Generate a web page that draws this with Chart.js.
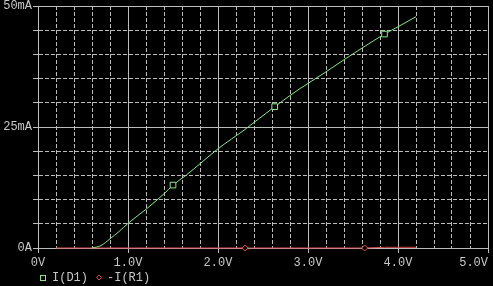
<!DOCTYPE html>
<html>
<head>
<meta charset="utf-8">
<script src="https://cdn.jsdelivr.net/npm/chart.js@4/dist/chart.umd.min.js"></script>
<style>
  html, body { margin: 0; padding: 0; background: #000; }
  #wrap { width: 493px; height: 286px; }
</style>
</head>
<body>
<div id="wrap"><canvas id="plot"></canvas></div>
<script>
// I(D1) trace, volts / mA
const diodeVolts = [0.6, 0.7, 0.8, 0.9, 1.0, 1.2, 1.4, 1.5, 1.65, 1.8, 2.0, 2.3, 2.63, 2.9, 3.0, 3.2, 3.4, 3.6, 3.85, 4.0, 4.2];
const diodeCurrent = [0, 0.5, 1.9, 3.4, 5.1, 8.0, 11.2, 13.0, 15.1, 17.4, 20.5, 24.5, 29.2, 32.8, 34.0, 36.4, 38.9, 41.3, 44.2, 45.7, 47.8];
const diodeMarks = [1.5, 2.63, 3.85];

// -I(R1) trace
const resVolts = [0.2, 1.0, 2.0, 2.3, 3.0, 3.63, 3.85, 4.2];
const resCurrent = [0, 0, 0, 0, 0, 0, 0.15, 0.15];
const resMarks = [2.3, 3.63];

const xTickLabels = ['0V', '1.0V', '2.0V', '3.0V', '4.0V', '5.0V'];
const yTickLabels = { 0: '0A', 25: '25mA', 50: '50mA' };

const GRID = '#bcbcbc';
const TEXT = '#c8c8c8';
const GREEN = '#8de68a';
const RED = '#d84a4a';

Chart.defaults.font.family = '"Liberation Mono", monospace';
Chart.defaults.font.size = 12;
Chart.defaults.color = TEXT;

const isMajorX = v => Math.abs(v - Math.round(v)) < 1e-6;
const isMajorY = v => Math.abs(v / 25 - Math.round(v / 25)) < 1e-6;

function pts(xs, ys) {
    return xs.map((x, i) => ({ x: x, y: ys[i] }));
}

// legend drawn under the x labels, PSpice style
const probeLegend = {
    id: 'probeLegend',
    afterDraw(chart) {
        const ctx = chart.ctx;
        const y = 277.5;
        ctx.save();
        ctx.font = '12px "Liberation Mono", monospace';
        ctx.textBaseline = 'middle';
        ctx.fillStyle = TEXT;
        ctx.lineWidth = 1;
        // green square
        ctx.strokeStyle = GREEN;
        ctx.strokeRect(40.5, 275.5, 5, 5);
        ctx.fillText(chart.data.datasets[0].label, 52, y);
        // red diamond
        ctx.strokeStyle = RED;
        ctx.beginPath();
        ctx.moveTo(99, 275);
        ctx.lineTo(101.5, 277.5);
        ctx.lineTo(99, 280);
        ctx.lineTo(96.5, 277.5);
        ctx.closePath();
        ctx.stroke();
        ctx.fillText(chart.data.datasets[1].label, 107, y);
        ctx.restore();
    }
};

const ctx = document.getElementById('plot').getContext('2d');
new Chart(ctx, {
    type: 'line',
    data: {
        datasets: [{
            label: 'I(D1)',
            data: pts(diodeVolts, diodeCurrent),
            borderColor: GREEN,
            borderWidth: 1,
            pointStyle: 'rect',
            pointBorderColor: GREEN,
            pointBackgroundColor: '#000',
            pointBorderWidth: 1,
            pointRadius: c => diodeMarks.includes(diodeVolts[c.dataIndex]) ? 4 : 0,
            cubicInterpolationMode: 'monotone',
            clip: 6
        }, {
            label: '-I(R1)',
            data: pts(resVolts, resCurrent),
            borderColor: RED,
            borderWidth: 1,
            pointStyle: 'rectRot',
            pointBorderColor: RED,
            pointBackgroundColor: '#000',
            pointBorderWidth: 1,
            pointRadius: c => resMarks.includes(resVolts[c.dataIndex]) ? 3 : 0,
            tension: 0,
            clip: 6
        }]
    },
    options: {
        responsive: true,
        maintainAspectRatio: false,
        animation: false,
        layout: { padding: { top: 6, right: 5, left: 0, bottom: 0 } },
        plugins: {
            legend: { display: false },
            tooltip: { enabled: false }
        },
        scales: {
            x: {
                type: 'linear',
                min: 0,
                max: 5,
                afterFit(s) { s.height = 38; s.paddingLeft = 0; s.paddingRight = 0; },
                ticks: {
                    stepSize: 0.2,
                    autoSkip: false,
                    maxRotation: 0,
                    padding: 3,
                    color: TEXT,
                    callback: v => {
                        if (!isMajorX(v)) return '';
                        const r = Math.round(v);
                        // last label sits inside the plot edge
                        return r === 5 ? xTickLabels[r] + '    ' : xTickLabels[r];
                    }
                },
                grid: {
                    color: GRID,
                    lineWidth: 1,
                    tickLength: 5,
                    tickColor: c => (c.tick && isMajorX(c.tick.value)) ? GRID : 'rgba(0,0,0,0)'
                },
                border: {
                    color: GRID,
                    dash: c => (c.tick && !isMajorX(c.tick.value)) ? [4, 2] : []
                }
            },
            y: {
                type: 'linear',
                min: 0,
                max: 50,
                afterFit(s) { s.width = 38; s.paddingTop = 0; s.paddingBottom = 0; },
                ticks: {
                    stepSize: 5,
                    autoSkip: false,
                    padding: 1,
                    color: TEXT,
                    callback: v => isMajorY(v) ? yTickLabels[Math.round(v)] : ''
                },
                grid: {
                    color: GRID,
                    lineWidth: 1,
                    tickLength: 5
                },
                border: {
                    color: GRID,
                    dash: c => (c.tick && !isMajorY(c.tick.value)) ? [4, 2] : []
                }
            }
        }
    },
    plugins: [probeLegend]
});
</script>
</body>
</html>
